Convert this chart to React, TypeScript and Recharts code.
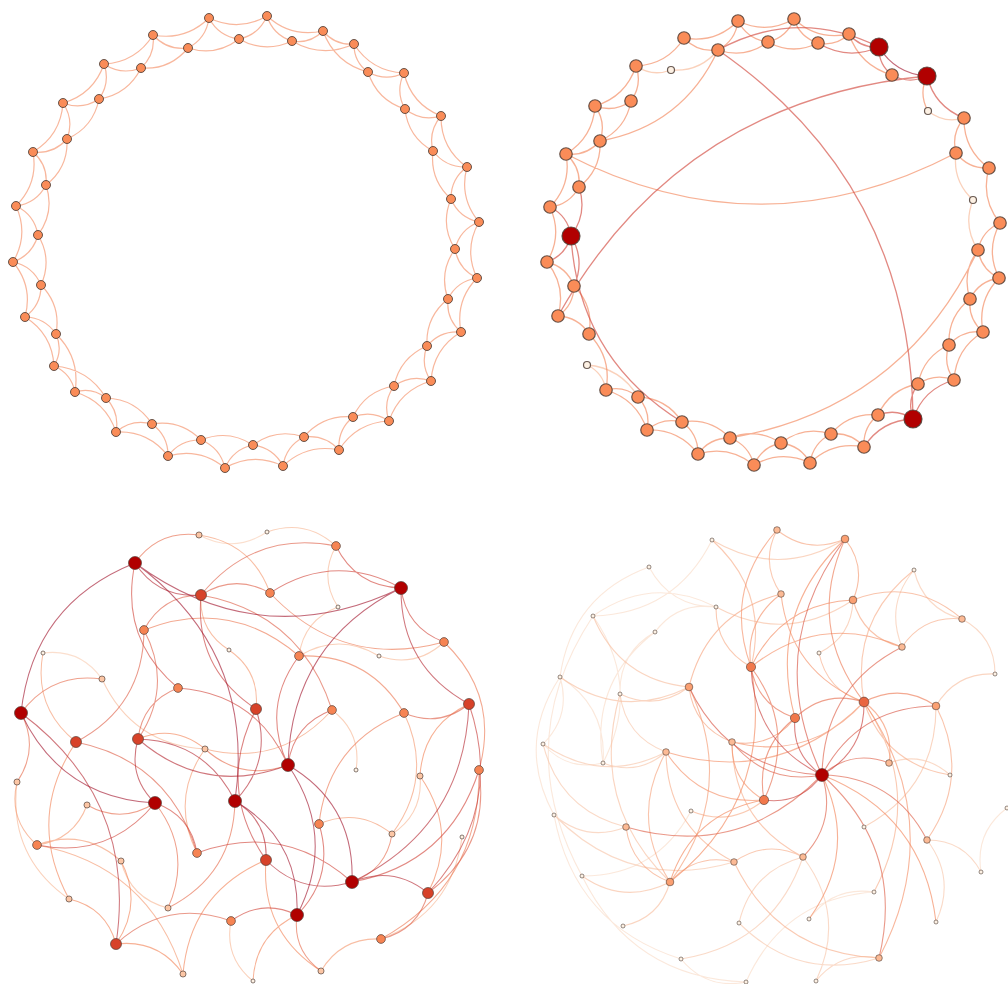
import React from 'react';
import { ComposedChart, Line, Scatter, XAxis, YAxis } from 'recharts';

type Node = [number, number, number]; // x, y, degree
type Edge = [number, number]; // source, target (arc bends to the left of source->target)

// top left: ring lattice, every node degree 4
const RING_NODES: Node[] = [
  [209, 18, 4], [239, 39, 4], [267, 16, 4], [292, 41, 4], [323, 31, 4], [354, 44, 4], [368, 72, 4], [404, 73, 4], [405, 109, 4], [441, 116, 4],
  [433, 151, 4], [467, 167, 4], [451, 199, 4], [479, 222, 4], [455, 249, 4], [477, 278, 4], [448, 299, 4], [461, 332, 4], [427, 346, 4], [431, 381, 4],
  [394, 386, 4], [389, 421, 4], [353, 417, 4], [339, 450, 4], [304, 437, 4], [283, 466, 4], [253, 445, 4], [225, 468, 4], [201, 440, 4], [168, 456, 4],
  [152, 424, 4], [116, 432, 4], [106, 398, 4], [75, 392, 4], [54, 366, 4], [56, 334, 4], [25, 317, 4], [41, 285, 4], [13, 262, 4], [38, 235, 4],
  [16, 206, 4], [46, 185, 4], [33, 152, 4], [67, 139, 4], [63, 103, 4], [99, 99, 4], [104, 64, 4], [141, 68, 4], [153, 35, 4], [188, 48, 4],
];
const RING_EDGES: Edge[] = [
  [0, 1], [0, 2], [1, 2], [1, 3], [2, 3], [2, 4], [3, 4], [3, 5], [4, 5], [4, 6], [5, 6], [5, 7], [6, 7], [6, 8], [7, 8], [7, 9],
  [8, 9], [8, 10], [9, 10], [9, 11], [10, 11], [10, 12], [11, 12], [11, 13], [12, 13], [12, 14], [13, 14], [13, 15], [14, 15], [14, 16],
  [15, 16], [15, 17], [16, 17], [16, 18], [17, 18], [17, 19], [18, 19], [18, 20], [19, 20], [19, 21], [20, 21], [20, 22], [21, 22], [21, 23],
  [22, 23], [22, 24], [23, 24], [23, 25], [24, 25], [24, 26], [25, 26], [25, 27], [26, 27], [26, 28], [27, 28], [27, 29], [28, 29], [28, 30],
  [29, 30], [29, 31], [30, 31], [30, 32], [31, 32], [31, 33], [32, 33], [32, 34], [33, 34], [33, 35], [34, 35], [34, 36], [35, 36], [35, 37],
  [36, 37], [36, 38], [37, 38], [37, 39], [38, 39], [38, 40], [39, 40], [39, 41], [40, 41], [40, 42], [41, 42], [41, 43], [42, 43], [42, 44],
  [43, 44], [43, 45], [44, 45], [44, 46], [45, 46], [45, 47], [46, 47], [46, 48], [47, 48], [47, 49], [48, 49], [48, 0], [49, 0], [49, 1],
];

// top right: the same ring with a few rewired links
const REWIRED_NODES: Node[] = [
  [684, 38, 4], [718, 50, 4], [738, 21, 4], [768, 42, 4], [794, 19, 4], [818, 43, 4], [849, 34, 4], [879, 47, 6], [892, 75, 4], [927, 76, 6],
  [928, 111, 2], [964, 118, 4], [956, 153, 4], [989, 168, 4], [973, 200, 2], [1000, 223, 4], [978, 250, 4], [999, 278, 4], [970, 299, 4], [983, 332, 4],
  [949, 345, 4], [954, 380, 4], [918, 384, 4], [913, 419, 6], [878, 415, 4], [864, 447, 4], [831, 434, 4], [810, 463, 4], [781, 443, 4], [754, 465, 4],
  [730, 438, 4], [698, 454, 4], [682, 422, 4], [647, 430, 4], [638, 397, 4], [606, 390, 4], [587, 365, 2], [589, 334, 4], [558, 316, 4], [574, 286, 4],
  [547, 262, 4], [571, 236, 6], [550, 207, 4], [579, 187, 4], [566, 154, 4], [600, 141, 4], [595, 106, 4], [631, 101, 4], [636, 66, 4], [671, 70, 2],
];
const REWIRED_EDGES: Edge[] = [
  [0, 1], [0, 2], [1, 2], [1, 3], [2, 3], [2, 4], [3, 4], [3, 5], [4, 5], [4, 6], [5, 6], [5, 7], [6, 7], [6, 8], [7, 8], [7, 9],
  [8, 9], [9, 10], [9, 11], [10, 11], [11, 12], [11, 13], [12, 13], [12, 14], [13, 15], [14, 16], [15, 16], [15, 17], [16, 17], [16, 18],
  [17, 18], [17, 19], [18, 19], [18, 20], [19, 20], [19, 21], [20, 21], [20, 22], [21, 22], [21, 23], [22, 23], [22, 24], [23, 24], [23, 25],
  [24, 25], [24, 26], [25, 26], [25, 27], [26, 27], [26, 28], [27, 28], [27, 29], [28, 29], [28, 30], [29, 30], [29, 31], [30, 31], [30, 32],
  [31, 32], [31, 33], [32, 33], [32, 34], [33, 34], [33, 35], [34, 35], [34, 36], [35, 36], [35, 37], [37, 38], [37, 39], [38, 39], [38, 40],
  [39, 40], [39, 41], [40, 41], [40, 42], [41, 42], [41, 43], [42, 43], [42, 44], [43, 44], [43, 45], [44, 45], [44, 46], [45, 46], [45, 47],
  [46, 47], [46, 48], [47, 48], [48, 49], [48, 0], [49, 1],
  [44, 12], [9, 38], [23, 1], [30, 16], [7, 1], [41, 32], [45, 1],
];

// bottom left: random graph
const RANDOM_NODES: Node[] = [
  [199, 535, 2], [267, 532, 1], [336, 546, 4], [135, 563, 8], [201, 595, 6], [270, 593, 4], [401, 588, 8], [338, 607, 1], [144, 630, 4], [229, 650, 1],
  [299, 656, 4], [379, 656, 1], [444, 642, 4], [43, 653, 1], [102, 679, 2], [178, 688, 4], [256, 709, 6], [332, 710, 4], [404, 713, 4], [469, 704, 6],
  [21, 713, 8], [76, 742, 6], [138, 739, 6], [205, 749, 2], [288, 765, 8], [356, 770, 1], [420, 776, 2], [479, 770, 4], [17, 782, 2], [155, 803, 8],
  [235, 801, 8], [87, 805, 2], [319, 824, 4], [392, 834, 2], [462, 837, 1], [37, 845, 4], [197, 853, 4], [266, 860, 6], [121, 861, 2], [352, 882, 8],
  [428, 893, 6], [69, 899, 2], [168, 908, 2], [297, 915, 8], [231, 921, 4], [116, 944, 6], [381, 939, 4], [183, 974, 2], [321, 971, 2], [253, 981, 1],
];
const RANDOM_EDGES: Edge[] = [
  [0, 3], [3, 20], [3, 6], [3, 4], [30, 3], [3, 15], [5, 4], [4, 16], [4, 9], [2, 4], [4, 8], [17, 4], [6, 5], [5, 12], [2, 6], [6, 24],
  [6, 19], [6, 12], [0, 1], [2, 1], [5, 0], [2, 7], [7, 10], [10, 8], [22, 8], [21, 8], [16, 9], [10, 24], [11, 10], [18, 10], [11, 12],
  [27, 12], [14, 13], [13, 21], [14, 20], [14, 23], [15, 22], [24, 15], [30, 16], [16, 37], [23, 17], [17, 24], [25, 17], [18, 19], [18, 32],
  [33, 18], [39, 19], [40, 19], [19, 26], [20, 29], [45, 20], [28, 20], [36, 21], [21, 41], [22, 24], [30, 22], [22, 29], [23, 22], [23, 24],
  [23, 36], [39, 24], [43, 24], [33, 26], [40, 26], [46, 27], [40, 27], [39, 27], [28, 41], [28, 35], [31, 29], [35, 29], [36, 29], [42, 29],
  [43, 30], [37, 30], [42, 30], [35, 31], [33, 32], [43, 32], [39, 33], [46, 34], [38, 35], [39, 36], [37, 39], [37, 47], [37, 48], [45, 38],
  [38, 42], [40, 39], [46, 40], [45, 41], [43, 44], [43, 49], [43, 48], [44, 45], [44, 49], [47, 45], [46, 48], [47, 35],
];

// bottom right: scale-free graph around one hub
const HUB_NODES: Node[] = [
  [777, 530, 2], [845, 539, 3], [712, 540, 1], [649, 567, 1], [914, 570, 1], [781, 594, 2], [853, 600, 3], [716, 607, 1], [593, 616, 1], [962, 619, 2],
  [655, 632, 1], [902, 647, 2], [819, 653, 1], [751, 667, 5], [995, 674, 1], [560, 677, 1], [689, 687, 3], [620, 694, 1], [864, 702, 6], [936, 706, 3],
  [795, 718, 5], [732, 742, 2], [543, 744, 1], [666, 752, 2], [603, 763, 1], [889, 763, 2], [950, 775, 1], [822, 775, 13], [764, 800, 5], [1007, 808, 1],
  [691, 811, 1], [554, 815, 1], [626, 827, 2], [864, 827, 1], [927, 840, 2], [803, 857, 2], [734, 862, 2], [981, 872, 1], [582, 876, 1], [670, 882, 3],
  [874, 892, 1], [809, 919, 1], [739, 923, 1], [936, 922, 1], [623, 926, 1], [681, 959, 1], [879, 958, 2], [746, 982, 1], [816, 981, 1],
];
const HUB_EDGES: Edge[] = [
  [13, 27], [1, 27], [20, 27], [27, 18], [11, 27], [19, 27], [25, 27], [34, 27], [46, 27], [35, 27], [28, 27], [32, 27], [16, 27], [21, 27],
  [41, 27], [43, 27], [45, 35], [0, 1], [2, 1], [0, 13], [0, 5], [6, 1], [1, 18], [1, 20], [3, 7], [3, 15], [8, 2], [7, 6], [7, 8], [7, 10],
  [7, 13], [13, 2], [5, 16], [5, 13], [5, 18], [4, 11], [4, 9], [4, 18], [6, 11], [6, 13], [12, 6], [9, 6], [9, 11], [14, 9], [11, 13],
  [12, 18], [13, 20], [28, 13], [39, 13], [14, 19], [15, 16], [22, 15], [24, 15], [17, 16], [8, 16], [16, 21], [17, 23], [17, 39], [19, 18],
  [18, 20], [21, 18], [23, 18], [18, 26], [25, 18], [46, 18], [40, 18], [34, 19], [21, 20], [20, 28], [21, 28], [21, 35], [22, 23], [22, 24],
  [23, 28], [23, 39], [23, 36], [24, 23], [26, 25], [28, 39], [30, 28], [38, 30], [31, 32], [31, 36], [31, 45], [32, 39], [43, 34], [37, 34],
  [35, 36], [35, 42], [48, 35], [36, 39], [36, 46], [38, 39], [38, 47], [44, 39], [40, 41], [42, 46], [46, 48], [45, 47], [40, 47], [22, 32],
  [15, 31], [24, 8], [8, 38], [10, 17], [10, 24], [33, 19], [39, 16], [29, 37],
];

const NODE_STOPS = ['#fdf1e4', '#fcc3a0', '#fa8c58', '#dc4a2e', '#b10000'];
const EDGE_STOPS = ['#f9dcc8', '#f8b896', '#f3875c', '#d24a3f', '#a51c33'];

function hexRgb(h: string) {
  return [1, 3, 5].map((i) => parseInt(h.slice(i, i + 2), 16));
}

function ramp(stops: string[], t: number) {
  const s = Math.min(Math.max(t, 0), 1) * (stops.length - 1);
  const i = Math.min(Math.floor(s), stops.length - 2);
  const f = s - i;
  const a = hexRgb(stops[i]);
  const b = hexRgb(stops[i + 1]);
  const c = a.map((v, j) => Math.round(v + (b[j] - v) * f));
  return `rgb(${c[0]},${c[1]},${c[2]})`;
}

interface PanelCfg {
  dMin: number;
  dMax: number;
  gamma: number;
  rMin: number;
  rMax: number;
  bend: number;
  edgeWidth: number;
  edgeOpacity: number;
  nodeStroke: number;
}

function degT(d: number, cfg: PanelCfg) {
  const t = (d - cfg.dMin) / (cfg.dMax - cfg.dMin);
  return Math.pow(Math.min(Math.max(t, 0), 1), cfg.gamma);
}

// d3 curve factory: consecutive point pairs become curved arcs
const arcCurve = (k: number) => (context: any) => {
  let pts: number[][] = [];
  return {
    areaStart() {},
    areaEnd() {},
    lineStart() {
      pts = [];
    },
    point(x: number, y: number) {
      pts.push([+x, +y]);
    },
    lineEnd() {
      for (let i = 0; i + 1 < pts.length; i += 2) {
        const [x0, y0] = pts[i];
        const [x1, y1] = pts[i + 1];
        const cx = (x0 + x1) / 2 - (y1 - y0) * k;
        const cy = (y0 + y1) / 2 + (x1 - x0) * k;
        context.moveTo(x0, y0);
        context.quadraticCurveTo(cx, cy, x1, y1);
      }
    },
  };
};

function edgeGroups(nodes: Node[], edges: Edge[], cfg: PanelCfg) {
  const groups: Record<string, { x: number; y: number }[]> = {};
  edges.forEach(([a, b]) => {
    const t = Math.round(((degT(nodes[a][2], cfg) + degT(nodes[b][2], cfg)) / 2) * 20) / 20;
    const key = t.toFixed(2);
    if (!groups[key]) groups[key] = [];
    groups[key].push({ x: nodes[a][0], y: nodes[a][1] }, { x: nodes[b][0], y: nodes[b][1] });
  });
  return Object.keys(groups)
    .sort((p, q) => Number(p) - Number(q))
    .map((key) => ({ t: Number(key), points: groups[key] }));
}

interface GraphPanelProps {
  nodes: Node[];
  edges: Edge[];
  cfg: PanelCfg;
  xDomain: [number, number];
  yDomain: [number, number];
}

function GraphPanel({ nodes, edges, cfg, xDomain, yDomain }: GraphPanelProps) {
  const curve = arcCurve(cfg.bend);
  const groups = edgeGroups(nodes, edges, cfg);
  const nodeData = nodes.map(([x, y, d]) => ({ x, y, d }));

  const renderNode = (props: any) => {
    const t = degT(props.payload.d, cfg);
    return (
      <circle
        cx={props.cx}
        cy={props.cy}
        r={cfg.rMin + t * (cfg.rMax - cfg.rMin)}
        fill={ramp(NODE_STOPS, t)}
        stroke="#4e3d35"
        strokeOpacity={0.85}
        strokeWidth={cfg.nodeStroke}
      />
    );
  };

  return (
    <ComposedChart width={504} height={492} margin={{ top: 0, right: 0, bottom: 0, left: 0 }}>
      <XAxis type="number" dataKey="x" domain={xDomain} hide allowDataOverflow />
      <YAxis type="number" dataKey="y" domain={yDomain} hide reversed allowDataOverflow />
      {groups.map((g) => (
        <Line
          key={g.t}
          data={g.points}
          dataKey="y"
          type={curve as any}
          stroke={ramp(EDGE_STOPS, g.t)}
          strokeOpacity={cfg.edgeOpacity}
          strokeWidth={cfg.edgeWidth}
          dot={false}
          activeDot={false}
          isAnimationActive={false}
        />
      ))}
      <Scatter data={nodeData} shape={renderNode} isAnimationActive={false} />
    </ComposedChart>
  );
}

const RING_CFG: PanelCfg = { dMin: 2, dMax: 6, gamma: 1, rMin: 2.5, rMax: 6.5, bend: 0.26, edgeWidth: 1.2, edgeOpacity: 0.6, nodeStroke: 1 };
const REWIRED_CFG: PanelCfg = { dMin: 2, dMax: 6, gamma: 1, rMin: 3.5, rMax: 9, bend: 0.26, edgeWidth: 1.3, edgeOpacity: 0.65, nodeStroke: 1.2 };
const RANDOM_CFG: PanelCfg = { dMin: 1, dMax: 8, gamma: 0.75, rMin: 2, rMax: 6.5, bend: 0.3, edgeWidth: 1.05, edgeOpacity: 0.65, nodeStroke: 0.8 };
const HUB_CFG: PanelCfg = { dMin: 1, dMax: 13, gamma: 0.5, rMin: 2, rMax: 6.5, bend: 0.3, edgeWidth: 1.1, edgeOpacity: 0.65, nodeStroke: 0.7 };

export default function App() {
  return (
    <div
      style={{
        position: 'absolute',
        left: 0,
        top: 0,
        width: 1008,
        height: 984,
        display: 'flex',
        flexWrap: 'wrap',
        background: '#ffffff',
      }}
    >
      <GraphPanel nodes={RING_NODES} edges={RING_EDGES} cfg={RING_CFG} xDomain={[0, 504]} yDomain={[0, 492]} />
      <GraphPanel nodes={REWIRED_NODES} edges={REWIRED_EDGES} cfg={REWIRED_CFG} xDomain={[504, 1008]} yDomain={[0, 492]} />
      <GraphPanel nodes={RANDOM_NODES} edges={RANDOM_EDGES} cfg={RANDOM_CFG} xDomain={[0, 504]} yDomain={[492, 984]} />
      <GraphPanel nodes={HUB_NODES} edges={HUB_EDGES} cfg={HUB_CFG} xDomain={[504, 1008]} yDomain={[492, 984]} />
    </div>
  );
}
